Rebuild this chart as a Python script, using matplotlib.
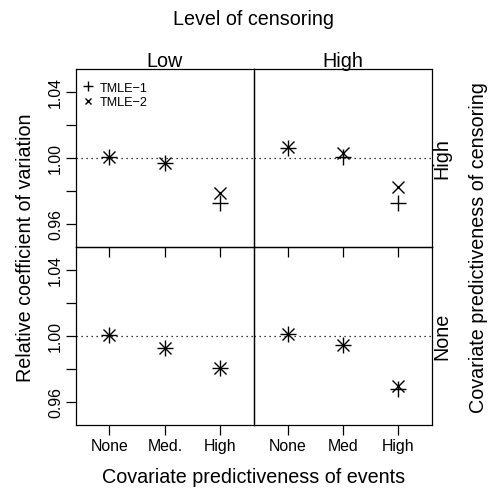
import numpy as np
import matplotlib
matplotlib.use("Agg")
import matplotlib.pyplot as plt

plt.rcParams["font.family"] = ["Liberation Sans", "DejaVu Sans"]

# ------------------------------------------------------------
# data (relative coefficient of variation)
# ------------------------------------------------------------
event_levels = [1, 2, 3]
event_labels_low = ["None", "Med.", "High"]
event_labels_high = ["None", "Med", "High"]
censoring_levels = ["Low", "High"]        # columns
censor_pred_levels = ["High", "None"]     # rows (top, bottom)

# top row: censoring predictiveness = High
tmle1_low_high = [1.0005, 0.9970, 0.9727]
tmle2_low_high = [1.0005, 0.9970, 0.9786]
tmle1_high_high = [1.0062, 1.0008, 0.9727]
tmle2_high_high = [1.0065, 1.0028, 0.9822]
# bottom row: censoring predictiveness = None
tmle1_low_none = [1.0004, 0.9927, 0.9806]
tmle2_low_none = [1.0004, 0.9927, 0.9806]
tmle1_high_none = [1.0014, 0.9947, 0.9677]
tmle2_high_none = [1.0014, 0.9947, 0.9697]

panels = {
    (0, 0): (tmle1_low_high, tmle2_low_high),
    (0, 1): (tmle1_high_high, tmle2_high_high),
    (1, 0): (tmle1_low_none, tmle2_low_none),
    (1, 1): (tmle1_high_none, tmle2_high_none),
}

W, H = 494, 489
fig = plt.figure(figsize=(W / 100, H / 100), dpi=100)

# panel grid in pixels
x0, xm, x1 = 75.7, 254.0, 432.0
y0, ym, y1 = 70.0, 247.8, 425.7
xs = [(x0, xm), (xm, x1)]
ys = [(y0, ym), (ym, y1)]

tick_fs = 11.4
lab_fs = 14.2

for (r, c), (s1, s2) in panels.items():
    left, right = xs[c]
    top, bot = ys[r]
    ax = fig.add_axes([left / W, 1 - bot / H, (right - left) / W, (bot - top) / H])
    ax.patch.set_visible(False)
    ax.set_xlim(0.39, 3.61)
    ax.set_ylim(0.9462, 1.0539)
    ax.axhline(1.0, color="black", lw=0.9, ls=(0, (1, 3)), zorder=1)
    ax.plot(event_levels, s1, ls="none", marker="+", ms=12, mew=1.0,
            color="black", label="TMLE\u22121", zorder=3)
    ax.plot(event_levels, s2, ls="none", marker="x", ms=8.3, mew=1.0,
            color="black", label="TMLE\u22122", zorder=3)
    for sp in ax.spines.values():
        sp.set_linewidth(0.9)
    ax.set_xticks(event_levels)
    if r == 1:
        ax.set_xticklabels(event_labels_low if c == 0 else event_labels_high,
                           fontsize=tick_fs)
    else:
        ax.set_xticklabels([])
    ax.tick_params(axis="x", direction="out", length=7.2, width=0.9, pad=2.5)
    if c == 0:
        ax.set_yticks([0.96, 0.98, 1.00, 1.02, 1.04])
        ax.set_yticklabels(["0.96", "", "1.00", "", "1.04"], fontsize=tick_fs,
                           rotation=90, va="center")
        ax.tick_params(axis="y", direction="out", length=7.2, width=0.9, pad=2.0)
    else:
        ax.set_yticks([])
    if r == 0 and c == 0:
        # legend sits a little below the panel's top-left corner
        ax.legend(loc="upper left", bbox_to_anchor=(0, 0.972), frameon=False,
                  fontsize=9.1, markerscale=0.55, handlelength=0.8,
                  handletextpad=0.5, borderaxespad=0.3, labelspacing=0.2,
                  borderpad=0.3)

# strip labels and axis titles
fig.text(253 / W, 1 - 25 / H, "Level of censoring", ha="center", va="baseline",
         fontsize=lab_fs)
for c, name in enumerate(censoring_levels):
    cx = (xs[c][0] + xs[c][1]) / 2
    fig.text(cx / W, 1 - 67 / H, name, ha="center", va="baseline", fontsize=lab_fs)
for r, name in enumerate(censor_pred_levels):
    cy = (ys[r][0] + ys[r][1]) / 2
    fig.text((x1 + 0.5) / W, 1 - cy / H, name, ha="left", va="center",
             rotation=90, fontsize=lab_fs)

fig.text(254 / W, 1 - 483 / H, "Covariate predictiveness of events",
         ha="center", va="baseline", fontsize=lab_fs)
fig.text(26 / W, 1 - 248 / H, "Relative coefficient of variation",
         ha="center", va="center", rotation=90, fontsize=lab_fs)
fig.text(478 / W, 1 - 248 / H, "Covariate predictiveness of censoring",
         ha="center", va="center", rotation=90, fontsize=lab_fs)

fig.savefig("out.png", dpi=100)
